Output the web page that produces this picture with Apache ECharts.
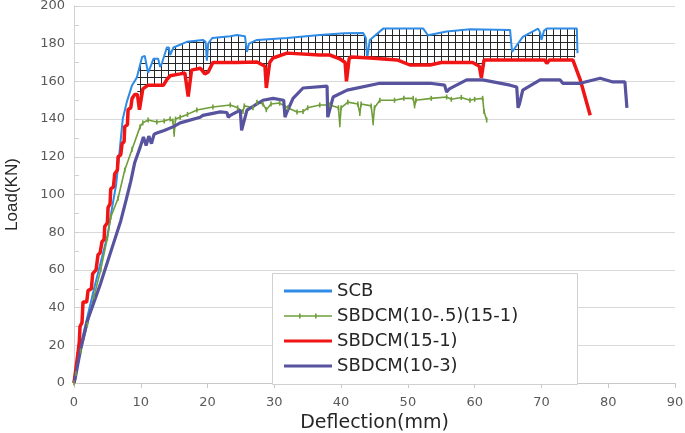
<!DOCTYPE html>
<html><head><meta charset="utf-8">
<script src="https://cdn.jsdelivr.net/npm/echarts@6/dist/echarts.min.js"></script>
<style>html,body{margin:0;padding:0;background:#fff}#c{width:685px;height:433px}</style>
</head><body><div id="c"></div>
<script>
const seriesNames = ['SCB', 'SBDCM(10-.5)(15-1)', 'SBDCM(15-1)', 'SBDCM(10-3)'];
const xTitle = 'Deflection(mm)';
const yTitle = 'Load(KN)';

const scb = [[0,0],[0.2,4],[1,20],[2,35],[3,50],[4,64],[5,78],[5.8,95],[6.3,105],[6.8,122],[7.3,140],[7.9,149],[8.7,158],[9.4,162],[10.2,173],[10.6,173.5],[11.1,164.5],[11.9,172],[12.6,172],[12.9,167.6],[13.2,170],[13.9,178],[14.2,178],[14.4,174],[14.9,178],[16.9,181],[19.3,182],[19.7,181],[19.9,171],[20.1,180],[20.7,183],[23.4,184],[24.4,184.6],[25.6,184],[25.9,175.6],[26.2,180],[27.4,182],[31.9,183],[36.8,184.6],[40.5,185.5],[43.3,185.7],[43.7,183],[43.9,172],[44.3,182],[46.3,188],[52.3,188],[53,184.5],[55.8,186.5],[59.3,187.7],[65.3,187.3],[65.6,175.6],[67.2,183.6],[69.5,188],[69.8,186],[70,182],[70.4,187],[70.8,188],[75.3,188],[75.4,175]];

const sbdcmA = [[0,0],[0.3,5],[1,17],[2,31],[3,46],[4,60],[5,77],[5.5,88],[6.6,98],[7.6,113],[8.7,124],[9.9,136],[10.3,138],[11.1,139.5],[12.4,138.5],[13.5,139],[14.4,140],[14.8,139],[15.0,132],[15.2,140],[15.9,141],[17,142.5],[18.4,144.8],[20.8,146.4],[23.4,147.5],[24.5,146],[25.3,144],[25.5,147],[26.8,146],[27.4,149],[28.3,148],[28.8,145],[29.5,148],[30.8,148.5],[32,146],[33.4,143.8],[34.3,144],[35,146],[36.8,147.5],[38.3,147.5],[39.6,146],[39.8,137],[40,146],[41,149],[42.5,148],[42.8,143],[43,148],[44.5,147],[44.8,138],[45.0,146],[45.8,150],[48,150],[49.4,151],[50.8,151],[51,147],[51.2,150],[53.5,151],[55.8,151.7],[56.5,150.5],[58,151.5],[59.3,150],[60,150.5],[61.2,151],[61.4,144],[61.8,139.5]];

const sbdcmB = [[0,0],[0.3,8],[0.6,16],[0.8,22],[0.9,30],[1.2,32],[1.35,43],[1.9,43],[2.1,49],[2.6,50],[2.8,58],[3.3,60],[3.6,68],[3.9,69],[4.2,75],[4.5,76],[4.6,83],[5.0,85],[5.1,93],[5.4,95],[5.5,103],[5.9,104],[6.1,111],[6.5,113],[6.6,120],[7.0,121],[7.2,127],[7.5,128],[7.6,136],[8.0,137],[8.1,145],[8.5,146],[8.7,151],[9.1,153],[9.5,153],[9.8,145],[10.0,145],[10.3,156],[11.1,158],[13.4,158],[13.9,161],[14.4,163],[15.9,164],[16.6,164.5],[17.1,152],[17.3,152],[17.6,166],[18.9,167],[19.6,164],[20.1,165],[20.8,170],[24.4,170],[27.4,170.3],[28.6,168],[28.8,156.5],[29.0,156.5],[29.3,170],[29.8,172.4],[31.9,175],[36.8,174],[38.3,174],[39.8,172],[40.6,170],[40.8,160],[41.0,160],[41.2,172],[41.5,173],[44.3,172.4],[48.4,171.4],[50.3,168.7],[53.3,168.7],[55,170],[58.3,170],[59.7,170],[60.7,168],[61.0,162],[61.2,162],[61.4,171.4],[70.5,171.4],[70.8,169.5],[71.2,171.4],[74.7,171.4],[75.8,161],[77.3,142]];

const sbdcmC = [[0,0],[0.2,3],[1,18],[2,33],[3,43],[4,53],[5,64],[6,75],[7,86],[7.8,97],[8.5,107],[9.1,117],[9.9,125],[10.4,130.5],[10.8,126],[11.2,131],[11.6,127],[12,132],[12.4,132.6],[13.5,134],[14.9,136],[15.9,138],[18.9,141],[19.3,142],[21.9,143.8],[22.9,143.5],[23.1,141],[23.4,142],[24.9,144.8],[25.1,134],[25.3,134],[25.9,144.8],[28.3,150],[29.8,151],[31.4,150],[31.6,141],[31.8,143],[32.8,151],[34.3,156.5],[37.9,157.5],[38.0,141],[38.8,151.7],[40.9,155.4],[45.8,159],[53.3,159],[55.5,158],[55.8,154.4],[56.2,156],[58.8,160.8],[61.2,160.8],[65.3,158],[66.3,157],[66.5,146],[66.7,148],[67.2,155.4],[69.8,160.8],[72.8,160.8],[73.2,159],[75.8,159],[78.8,161.7],[80.7,159.7],[82.5,159.7],[82.8,146]];

// hatch band between SCB (upper) and SBDCM(15-1) (lower)
const hatchRange = [9.3, 75.4];

const colors = ['#2E8BE6', '#6F9E3A', '#F01414', '#57539F'];

const pc = document.createElement('canvas');
pc.width = 7; pc.height = 7;
const pctx = pc.getContext('2d');
pctx.fillStyle = '#ffffff'; pctx.fillRect(0, 0, 7, 7);
pctx.fillStyle = '#262626';
pctx.fillRect(0, 0, 7, 1);
pctx.fillRect(0, 0, 1, 7);

const chart = echarts.init(document.getElementById('c'), null, {renderer: 'canvas'});
const font = 'DejaVu Sans';

const lineIcon = 'path://M0,0L0.01,0L0.01,0.01Z M0,5.5L48,5.5L48,8.5L0,8.5Z M48,14L47.99,14L47.99,13.99Z';
const markIcon = 'path://M0,0L0.01,0L0.01,0.01Z M0,6.3L48,6.3L48,7.7L0,7.7Z M15,4.5L16.6,4.5L16.6,9.5L15,9.5Z M31,4.5L32.6,4.5L32.6,9.5L31,9.5Z M48,14L47.99,14L47.99,13.99Z';

chart.setOption({
  animation: false,
  backgroundColor: '#ffffff',
  color: colors,
  grid: {left: 74, right: 10, top: 6, bottom: 50, containLabel: false, outerBoundsMode: 'none'},
  xAxis: {
    type: 'value', min: 0, max: 90, interval: 10,
    name: xTitle, nameLocation: 'middle', nameGap: 27,
    nameTextStyle: {fontFamily: font, fontSize: 19, color: '#262626'},
    axisLine: {show: true, lineStyle: {color: '#c8c8c8', width: 1}},
    axisTick: {show: true, length: 5, lineStyle: {color: '#c8c8c8'}},
    axisLabel: {fontFamily: font, fontSize: 13, color: '#595959', margin: 13},
    splitLine: {show: false}
  },
  yAxis: {
    type: 'value', min: 0, max: 200, interval: 20,
    name: yTitle, nameLocation: 'middle', nameGap: 53, nameRotate: 90,
    nameTextStyle: {fontFamily: 'Liberation Sans', fontSize: 17, color: '#262626'},
    axisLine: {show: true, lineStyle: {color: '#d0d0d0', width: 1}},
    axisTick: {show: true, inside: true, length: 5, lineStyle: {color: '#d0d0d0'}},
    minorTick: {show: true, splitNumber: 2, length: 5, lineStyle: {color: '#d0d0d0'}},
    axisLabel: {fontFamily: font, fontSize: 13, color: '#595959', margin: 9},
    splitLine: {show: true, lineStyle: {color: '#d9d9d9', width: 1}}
  },
  legend: {
    orient: 'vertical', left: 272, top: 273,
    padding: [8, 12, 8, 12],
    itemWidth: 48, itemHeight: 14, itemGap: 5,
    data: [
      {name: seriesNames[0], icon: lineIcon},
      {name: seriesNames[1], icon: markIcon},
      {name: seriesNames[2], icon: lineIcon},
      {name: seriesNames[3], icon: lineIcon}
    ],
    textStyle: {fontFamily: font, fontSize: 18, color: '#262626', lineHeight: 20},
    z: 20
  },
  graphic: [{
    type: 'rect', left: 272, top: 273, z: 10,
    shape: {width: 305, height: 111},
    style: {fill: '#ffffff', stroke: '#d0d0d0', lineWidth: 1}
  }],
  series: [
    {
      type: 'custom', name: 'hatch', z: 1, silent: true,
      data: [[hatchRange[0], 0]],
      renderItem: function (params, api) {
        const up = scb.filter(p => p[0] >= hatchRange[0] && p[0] <= hatchRange[1]);
        const lo = sbdcmB.filter(p => p[0] >= hatchRange[0] && p[0] <= hatchRange[1]).reverse();
        const pts = up.concat(lo).map(p => api.coord(p));
        return {type: 'polygon', shape: {points: pts},
          style: {fill: {image: pc, repeat: 'repeat'}, stroke: null}};
      }
    },
    {name: seriesNames[0], type: 'line', data: scb, symbol: 'none', z: 3,
      lineStyle: {width: 2, color: colors[0]}, itemStyle: {color: colors[0]}},
    {name: seriesNames[1], type: 'line', data: sbdcmA, z: 3,
      symbol: 'rect', symbolSize: [1.6, 5], showSymbol: true, showAllSymbol: true,
      lineStyle: {width: 1.6, color: colors[1]}, itemStyle: {color: colors[1]}},
    {name: seriesNames[2], type: 'line', data: sbdcmB, symbol: 'none', z: 3,
      lineStyle: {width: 3.5, color: colors[2]}, itemStyle: {color: colors[2]}},
    {name: seriesNames[3], type: 'line', data: sbdcmC, symbol: 'none', z: 3,
      lineStyle: {width: 3.2, color: colors[3]}, itemStyle: {color: colors[3]}}
  ]
});
</script></body></html>
